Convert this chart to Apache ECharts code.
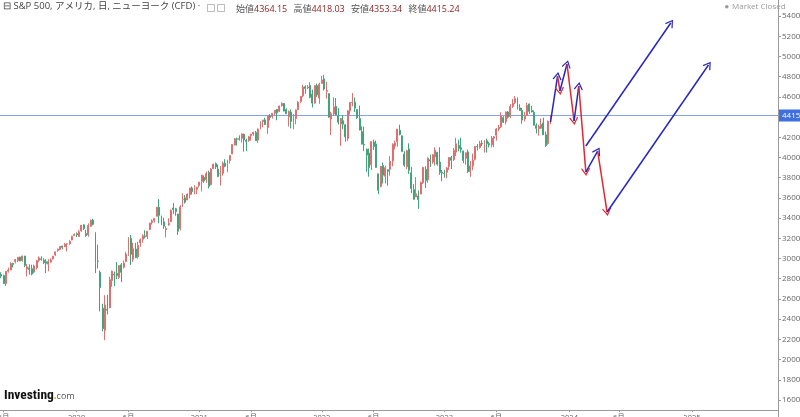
<!DOCTYPE html>
<html><head><meta charset="utf-8">
<script src="https://cdn.jsdelivr.net/npm/echarts@6/dist/echarts.min.js"></script>
<style>html,body{margin:0;padding:0;background:#fff;overflow:hidden}#c{width:800px;height:417px}</style>
</head><body><div id="c"></div>
<script>
// ---- data ----
const firstWeek = '2019-05-20';   // Monday of first weekly candle
const axisWeeks = 330;            // weeks shown on the time axis (incl. future)
const lastLabelWeek = '2025-01-06'; // no axis labels after this week
// weekly candles [open, close, low, high]
const ohlc2019 = [
 [2841,2826,2805,2864],[2830,2752,2750,2841],[2751,2873,2728,2876],[2874,2886,2860,2910],
 [2887,2950,2883,2964],[2952,2941,2912,2958],[2971,2990,2952,2996],[2980,3013,2966,3014],
 [3014,2976,2975,3018],[2978,3025,2970,3028],[3024,2932,2914,3027],[2898,2918,2822,2944],
 [2908,2889,2840,2943],[2899,2847,2834,2939],[2866,2926,2853,2940],[2909,2979,2891,2985],
 [2981,3007,2964,3021],[2997,2992,2978,3022],[2983,2961,2946,3002],[2968,2952,2855,2993],
 [2944,2970,2874,2993],[2965,2986,2959,3003],[2996,3023,2989,3027],[3036,3066,3023,3066],
 [3078,3093,3066,3098],[3088,3120,3084,3121],[3123,3110,3091,3127],[3117,3141,3113,3154],
 [3144,3146,3070,3150],[3146,3169,3135,3183],[3183,3221,3181,3225],[3227,3240,3223,3248]
];
const ohlc2020 = [
 [3247,3235,3212,3258],[3218,3265,3214,3282],[3274,3330,3264,3330],[3333,3295,3281,3338],
 [3247,3226,3214,3285],[3235,3328,3216,3347],[3319,3380,3315,3385],[3380,3338,3328,3393],
 [3257,2954,2856,3259],[2974,2972,2901,3137],[2864,2711,2478,2882],[2508,2305,2280,2553],
 [2290,2541,2192,2637],[2498,2489,2447,2641],[2514,2790,2508,2818],[2782,2875,2720,2880],
 [2845,2837,2727,2871],[2854,2831,2797,2965],[2815,2930,2798,2934],[2938,2864,2767,2955],
 [2913,2955,2902,2981],[2969,3044,2969,3068],[3039,3194,3025,3211],[3199,3041,2936,3233],
 [2993,3098,2966,3156],[3094,3009,3004,3155],[3018,3130,2999,3166],[3155,3185,3115,3199],
 [3191,3225,3156,3240],[3224,3216,3200,3280],[3219,3271,3193,3272],[3288,3351,3280,3353],
 [3357,3373,3336,3388],[3377,3397,3355,3399],[3418,3508,3418,3510],[3507,3427,3349,3588],
 [3371,3341,3330,3425],[3363,3319,3293,3402],[3285,3298,3209,3320],[3333,3348,3323,3398],
 [3365,3477,3361,3486],[3500,3484,3441,3550],[3493,3465,3424,3502],[3441,3270,3233,3441],
 [3297,3509,3279,3529],[3583,3585,3511,3645],[3600,3558,3543,3628],[3579,3638,3579,3645],
 [3634,3699,3594,3699],[3698,3663,3633,3712],[3675,3709,3635,3726],[3684,3703,3637,3712],
 [3723,3756,3703,3760]
];
const ohlc2021 = [
 [3764,3825,3663,3827],[3803,3768,3750,3823],[3781,3841,3749,3861],[3851,3714,3694,3870],
 [3731,3887,3725,3894],[3892,3934,3883,3937],[3939,3907,3885,3950],[3886,3811,3805,3931],
 [3842,3842,3723,3915],[3844,3943,3821,3960],[3943,3913,3903,3983],[3916,3975,3853,3978],
 [3969,4020,3940,4020],[4034,4129,4034,4130],[4124,4185,4118,4191],[4185,4180,4118,4195],
 [4185,4181,4167,4219],[4191,4233,4148,4238],[4229,4174,4057,4237],[4170,4156,4062,4186],
 [4168,4204,4155,4214],[4216,4230,4167,4234],[4232,4247,4215,4255],[4248,4166,4165,4262],
 [4173,4281,4145,4286],[4285,4352,4278,4356],[4356,4370,4300,4372],[4372,4327,4321,4393],
 [4296,4412,4233,4415],[4410,4395,4367,4429],[4406,4437,4385,4440],[4438,4468,4416,4468],
 [4474,4442,4368,4481],[4458,4509,4450,4513],[4513,4535,4503,4546],[4535,4459,4457,4536],
 [4474,4433,4429,4486],[4402,4455,4306,4466],[4449,4357,4288,4476],[4349,4391,4278,4429],
 [4385,4471,4329,4475],[4473,4545,4472,4560],[4553,4605,4541,4608],[4610,4697,4595,4718],
 [4701,4683,4630,4714],[4689,4698,4676,4718],[4712,4595,4585,4744],[4628,4538,4495,4672],
 [4538,4712,4533,4713],[4710,4620,4600,4732],[4588,4725,4531,4740],[4733,4766,4733,4808]
];
const ohlc2022 = [
 [4778,4677,4662,4818],[4655,4662,4582,4749],[4632,4398,4395,4632],[4381,4432,4222,4453],
 [4431,4501,4415,4595],[4506,4419,4417,4589],[4412,4349,4327,4489],[4332,4385,4115,4389],
 [4364,4329,4279,4416],[4323,4204,4157,4330],[4188,4463,4162,4465],[4462,4543,4424,4546],
 [4541,4546,4506,4637],[4548,4488,4450,4593],[4474,4392,4381,4475],[4385,4272,4268,4513],
 [4255,4132,4129,4308],[4130,4123,4063,4307],[4082,4023,3859,4089],[4044,3901,3810,4090],
 [3927,4158,3876,4158],[4153,4109,4074,4177],[4134,3901,3900,4168],[3838,3675,3637,3838],
 [3715,3912,3704,3913],[3920,3825,3742,3950],[3814,3899,3743,3918],[3880,3863,3721,3880],
 [3883,3962,3819,4013],[3965,4130,3913,4140],[4113,4145,4080,4167],[4155,4280,4107,4281],
 [4270,4228,4218,4325],[4214,4058,4057,4218],[4035,3924,3907,4062],[3910,4067,3886,4076],
 [4084,3873,3838,4140],[3849,3693,3647,3907],[3682,3586,3584,3736],[3610,3640,3610,3806],
 [3619,3583,3491,3674],[3638,3753,3636,3762],[3753,3901,3737,3906],[3882,3771,3698,3912],
 [3779,3993,3750,4002],[3977,3965,3906,4028],[3956,4026,3938,4034],[4006,4072,3920,4101],
 [4052,3934,3918,4052],[3954,3852,3828,4101],[3853,3845,3764,3876],[3843,3840,3800,3878]
];
const ohlc2023 = [
 [3853,3895,3794,3906],[3911,3999,3877,4004],[3999,3973,3885,4016],[3979,4071,3965,4095],
 [4053,4136,4015,4195],[4119,4090,4061,4176],[4097,4079,4047,4195],[4065,3970,3944,4067],
 [3992,4046,3928,4049],[4055,3862,3847,4079],[3859,3917,3808,3966],[3917,3971,3874,4039],
 [3982,4109,3969,4110],[4109,4105,4069,4133],[4099,4138,4087,4164],[4140,4133,4113,4170],
 [4132,4169,4049,4170],[4166,4136,4048,4186],[4136,4124,4099,4155],[4126,4192,4099,4212],
 [4190,4205,4103,4213],[4220,4282,4167,4291],[4283,4299,4261,4322],[4304,4410,4291,4448],
 [4396,4348,4341,4408],[4354,4450,4328,4456],[4450,4399,4385,4458],[4404,4505,4389,4528],
 [4505,4536,4491,4578],[4543,4582,4528,4607],[4584,4478,4474,4595],[4491,4464,4461,4527],
 [4464,4370,4335,4491],[4380,4406,4357,4452],[4415,4515,4414,4541],[4530,4457,4431,4533],
 [4464,4450,4447,4511],[4446,4320,4316,4466],[4316,4288,4238,4338],[4285,4308,4216,4324],
 [4289,4327,4284,4386],[4342,4224,4223,4394],[4226,4117,4104,4256],[4139,4358,4127,4366],
 [4364,4415,4329,4421]
];
const lastOHLC = [4364.15, 4418.03, 4353.34, 4415.24];
const ohlcNames = ['始値', '高値', '安値', '終値'];
const lastPrice = 4415.24;
// drawn forecast: zig-zag wave [week, price]
const wavePoints = [
 ['2023-11-06',4350],['2023-11-27',4806],['2023-12-04',4658],['2023-12-25',4925],
 ['2024-01-15',4361],['2024-01-29',4707],['2024-02-19',3856],['2024-03-25',4064],
 ['2024-04-22',3460],['2025-02-17',4915]
];
const extraArrow = [['2024-02-19',4114],['2024-10-28',5331]];
const yTicks = {min:1400, max:5600, step:200};

// ---- build ----
const DAY = 864e5;
const t0 = Date.parse(firstWeek + 'T00:00:00Z');
const weeks = [];
for (let i = 0; i < axisWeeks; i++) weeks.push(new Date(t0 + i*7*DAY).toISOString().slice(0,10));
function weekLabel(v){
  if (v > lastLabelWeek) return '';
  const d = Date.parse(v + 'T00:00:00Z');
  for (let k = 0; k < 7; k++) {
    const e = new Date(d + k*DAY);
    if (e.getUTCDate() === 1) {
      if (e.getUTCMonth() === 0) return String(e.getUTCFullYear());
      if (e.getUTCMonth() === 5) return '6月';
    }
  }
  return '';
}
const candles = [].concat(ohlc2019, ohlc2020, ohlc2021, ohlc2022, ohlc2023);
const BLUE = '#2626c0', RED = '#e3262e';
const arrowSym = 'path://M0,0 L6,8.5 L4.8,9.5 L0,2.6 L-4.8,9.5 L-6,8.5 Z';
const arrowLines = [];
for (let i = 0; i < wavePoints.length - 1; i++) {
  const a = wavePoints[i], b = wavePoints[i+1];
  const col = b[1] > a[1] ? BLUE : RED;
  arrowLines.push([{coord:a, lineStyle:{color:col}}, {coord:b, lineStyle:{color:col}}]);
}
arrowLines.push([{coord:extraArrow[0], lineStyle:{color:BLUE}}, {coord:extraArrow[1], lineStyle:{color:BLUE}}]);

const FONT = '"Open Sans","Noto Sans CJK JP",sans-serif';
const headerRich = ohlcNames.map((n,i)=>'{l|'+n+'}{v|'+lastOHLC[i].toFixed(2)+'}').join('  ');
const PRICE_LINE = '#86a2f2';

const chart = echarts.init(document.getElementById('c'), null, {renderer:'canvas'});
chart.setOption({
  animation: false,
  backgroundColor: '#fff',
  textStyle: {fontFamily: FONT},
  grid: {left: 0, right: 22, top: -4.2, bottom: -3.2, containLabel: false, outerBoundsMode: 'none'},
  xAxis: {
    type: 'category', data: weeks, boundaryGap: true, offset: -10,
    axisLine: {lineStyle: {color: '#9a9a9a', width: 1}},
    axisTick: {show: true, length: 2, alignWithLabel: true, interval: (i, v) => weekLabel(v) !== '', lineStyle:{color:'#9a9a9a'}},
    axisLabel: {interval: (i, v) => weekLabel(v) !== '', formatter: v => weekLabel(v), fontSize: 7.5, color: '#666', margin: 4, fontFamily: FONT},
    splitLine: {show: false}
  },
  yAxis: {
    type: 'value', position: 'right', min: yTicks.min, max: yTicks.max, interval: yTicks.step,
    axisLine: {show: true, lineStyle: {color: '#9a9a9a'}},
    axisTick: {show: true, length: 3, lineStyle:{color:'#9a9a9a'}},
    axisLabel: {fontSize: 8, color: '#666', margin: 4, formatter: v => v.toFixed(1), fontFamily: FONT},
    splitLine: {show: false}
  },
  graphic: [
    {type:'text', left: 3, top: 2, style:{text:'⊟ S&P 500, アメリカ, 日, ニューヨーク (CFD) ·', fontSize: 9.5, fontFamily: FONT, fill:'#444'}},
    {type:'rect', left: 207, top: 4, shape:{width:7, height:7}, style:{fill:'#fff', stroke:'#bbb', lineWidth:1}},
    {type:'rect', left: 217, top: 4, shape:{width:7, height:7}, style:{fill:'#fff', stroke:'#bbb', lineWidth:1}},
    {type:'text', left: 236, top: 3, style:{text: headerRich, fontFamily: FONT,
      rich:{l:{fill:'#555', fontSize:9, fontFamily:FONT}, v:{fill:'#8a1f1f', fontSize:9, fontFamily:FONT}}}},
    {type:'circle', left: 725, top: 5, shape:{r:1.8}, style:{fill:'#999'}},
    {type:'text', left: 732, top: 3, style:{text:'Market Closed', fontSize: 8, fontFamily: FONT, fill:'#999'}},
    {type:'text', left: 4, top: 389, style:{text:'{a|Investing}{b|.}{c|com}',
      rich:{a:{fontSize:13.5, fontWeight:'bold', fill:'#111', fontFamily:'"Roboto Condensed","Liberation Sans Narrow",Roboto,sans-serif'},
            b:{fontSize:10, fill:'#f2a100', fontWeight:'bold'}, c:{fontSize:9, fill:'#555', fontFamily:FONT}}}}
  ],
  series: [
    {
      type: 'candlestick', data: candles, barWidth: '62%', z: 3,
      itemStyle: {color: '#e07070', color0: '#3fa67c', borderColor: '#e07070', borderColor0: '#3fa67c', borderWidth: 1},
      markLine: {
        silent: true, symbol: ['none','none'], animation: false, z: 1,
        lineStyle: {color: PRICE_LINE, width: 1, type: 'solid', opacity: 1},
        label: {show: true, position: 'end', distance: 1, formatter: () => lastPrice.toFixed(2),
          backgroundColor: '#3f6fe0', color: '#fff', fontSize: 8, padding: [2, 3], fontFamily: FONT},
        data: [{yAxis: lastPrice, lineStyle: {color: PRICE_LINE, width: 1, type: 'solid', opacity: 1}}]
      }
    },
    {
      type: 'line', data: [], silent: true,
      markLine: {
        silent: true, animation: false,
        symbol: ['none', arrowSym], symbolSize: [9, 8],
        lineStyle: {width: 1.5, type: 'solid', opacity: 1},
        label: {show: false},
        data: arrowLines
      }
    }
  ]
});
</script></body></html>
